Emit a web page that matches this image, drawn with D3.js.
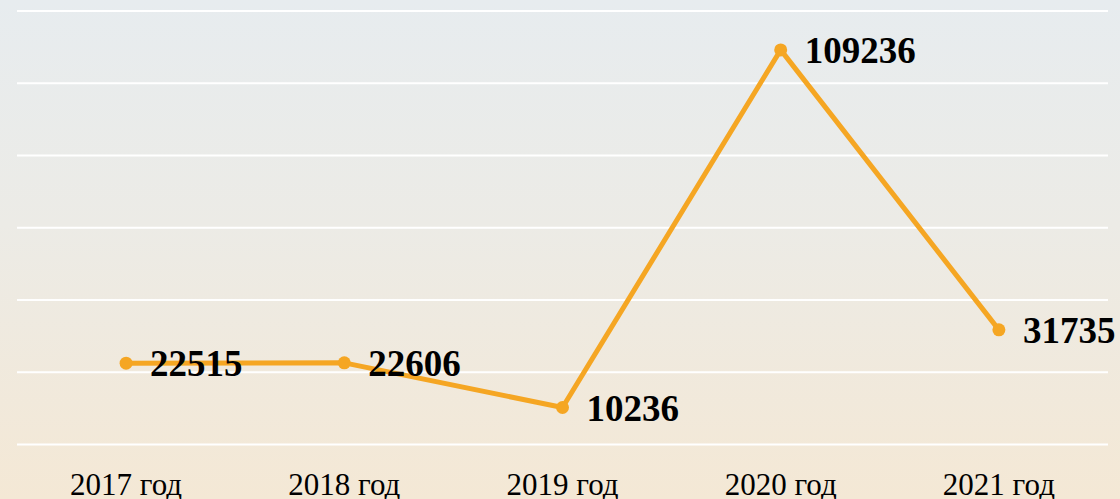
<!DOCTYPE html>
<html><head><meta charset="utf-8">
<script src="https://cdn.jsdelivr.net/npm/d3@7/dist/d3.min.js"></script>
<style>html,body{margin:0;padding:0;overflow:hidden;}svg{display:block;}</style>
</head><body>
<script>
const categories = ["2017 год","2018 год","2019 год","2020 год","2021 год"];
const values = [22515, 22606, 10236, 109236, 31735];
const yTicks = [0, 20000, 40000, 60000, 80000, 100000, 120000];

const W = 1120, H = 499;
const svg = d3.select("body").append("svg").attr("width", W).attr("height", H);
const defs = svg.append("defs");
const grad = defs.append("linearGradient").attr("id","bg").attr("x1",0).attr("y1",0).attr("x2",0).attr("y2",1);
grad.append("stop").attr("offset","0%").attr("stop-color","#e7ecef");
grad.append("stop").attr("offset","45%").attr("stop-color","#ecebe6");
grad.append("stop").attr("offset","100%").attr("stop-color","#f4e8d5");
svg.append("rect").attr("width",W).attr("height",H).attr("fill","url(#bg)");

const x = d3.scaleBand().domain(categories).range([17, 1108]);
const y = d3.scaleLinear().domain([0, 120000]).range([444.5, 11]);

svg.append("g").selectAll("line").data(yTicks).join("line")
  .attr("x1", 17).attr("x2", 1108)
  .attr("y1", d => y(d)).attr("y2", d => y(d))
  .attr("stroke", "#ffffff").attr("stroke-width", 2);

const cx = d => x(d) + x.bandwidth()/2;

svg.append("g").selectAll("text").data(categories).join("text")
  .attr("x", d => cx(d)).attr("y", 495)
  .attr("text-anchor","middle")
  .attr("font-family","'Liberation Serif','Times New Roman',serif")
  .attr("font-size", 31).attr("fill","#000")
  .text(d => d);

const pts = categories.map((c,i) => ({c, v: values[i]}));
const line = d3.line().x(d => cx(d.c)).y(d => y(d.v));
svg.append("path").datum(pts).attr("d", line)
  .attr("fill","none").attr("stroke","#f5a623").attr("stroke-width",5)
  .attr("stroke-linejoin","round");

svg.append("g").selectAll("circle").data(pts).join("circle")
  .attr("cx", d => cx(d.c)).attr("cy", d => y(d.v)).attr("r", 6.5)
  .attr("fill","#f5a623");

svg.append("g").selectAll("text").data(pts).join("text")
  .attr("x", d => cx(d.c) + 24).attr("y", d => y(d.v) + 13)
  .attr("font-family","'Liberation Serif','Times New Roman',serif")
  .attr("font-weight","bold")
  .attr("font-size", 37).attr("fill","#000")
  .text(d => d.v);
</script>
</body></html>
